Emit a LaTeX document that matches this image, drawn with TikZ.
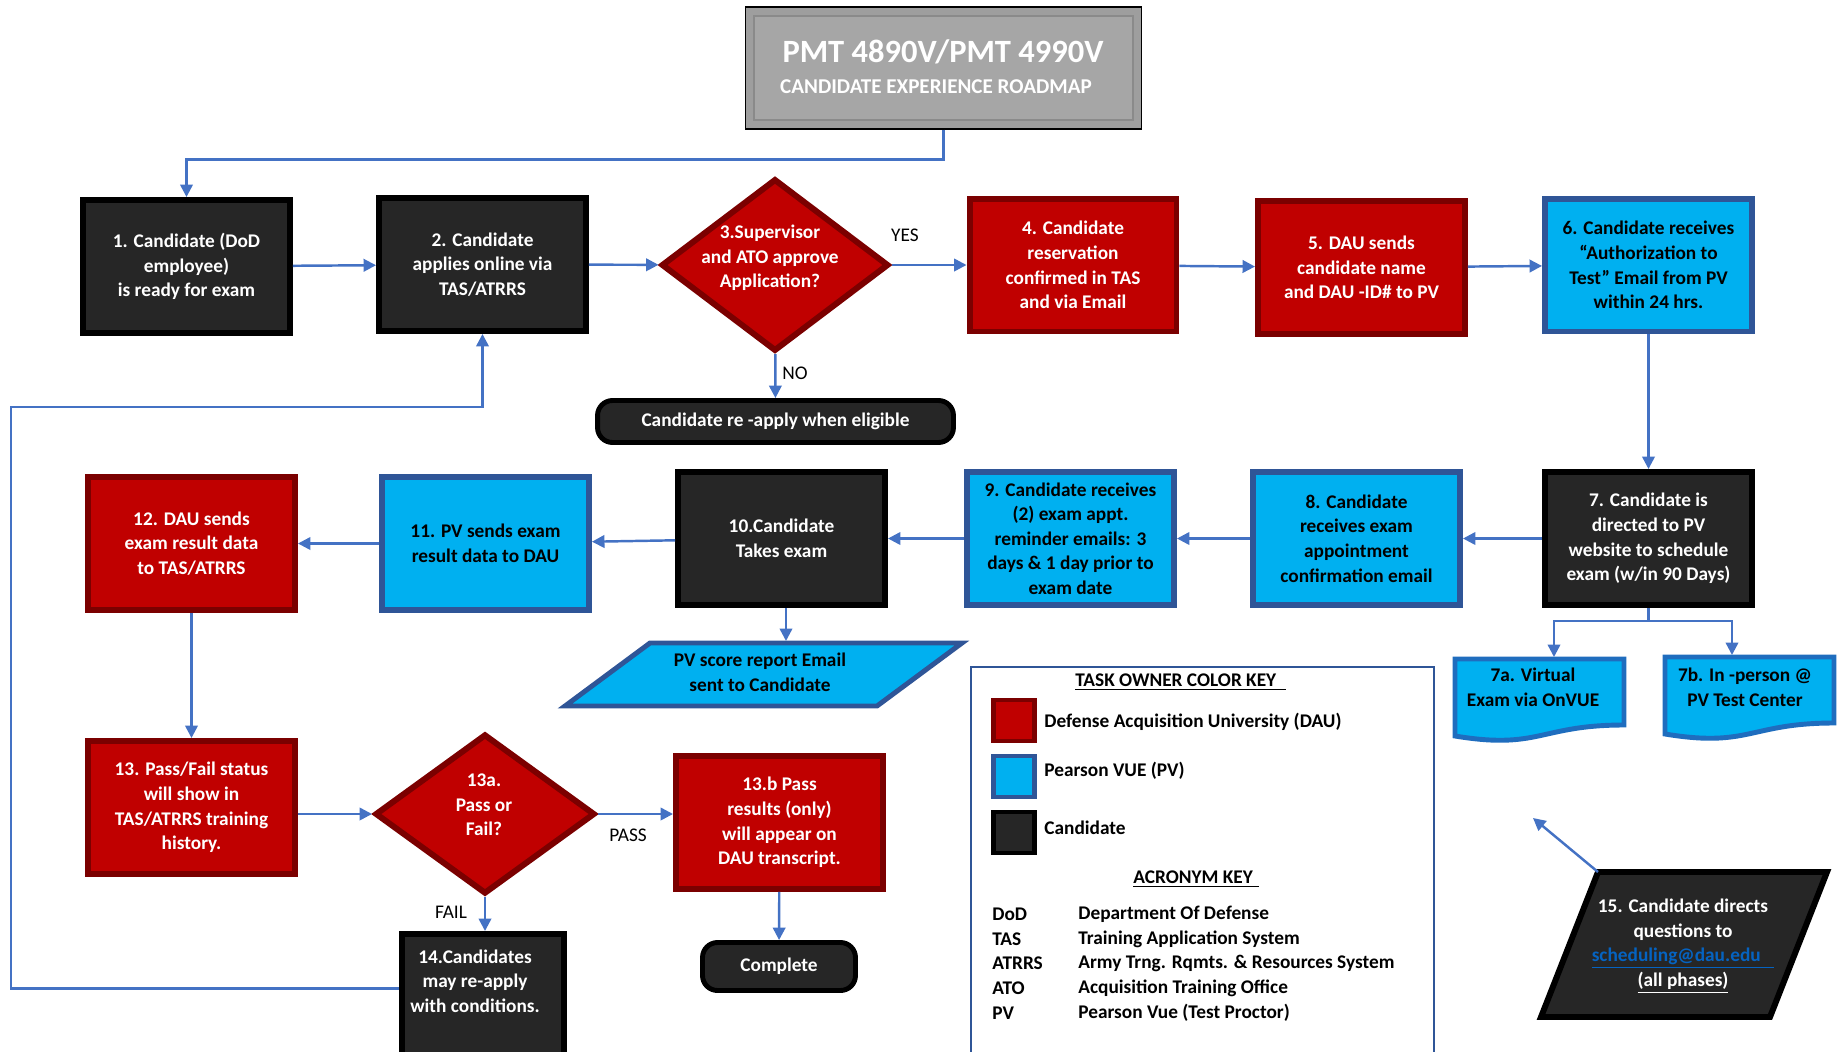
\documentclass[tikz,border=0pt]{standalone}
\usepackage{fontspec}
\setmainfont{Carlito}
\usetikzlibrary{shapes.geometric,arrows.meta}

\definecolor{candFill}{HTML}{262626}
\definecolor{dauFill}{HTML}{C00000}
\definecolor{dauEdge}{HTML}{7B0000}
\definecolor{pvFill}{HTML}{00B0F0}
\definecolor{pvEdge}{HTML}{2F5597}
\definecolor{docEdge}{HTML}{1F6DBE}
\definecolor{flowBlue}{HTML}{4472C4}
\definecolor{mailBlue}{HTML}{0563C1}
\definecolor{titleFill}{HTML}{A6A6A6}
\definecolor{titleBand}{HTML}{9E9E9E}
\definecolor{titleEdge}{HTML}{8A8A8A}

\tikzset{
  txt/.style={font=\fontsize{11}{14}\selectfont\bfseries, align=center},
  box/.style={txt, rectangle, line width=3.4pt, minimum width=4.14cm, minimum height=2.66cm, inner sep=2pt},
  candbox/.style={box, draw=black, fill=candFill, text=white},
  daubox/.style={box, draw=dauEdge, fill=dauFill, text=white},
  pvbox/.style={box, draw=pvEdge, fill=pvFill, text=black},
  dauask/.style={diamond, draw=dauEdge, fill=dauFill, line width=3.4pt, inner sep=0pt},
  endcap/.style={txt, rectangle, rounded corners=0.3cm, draw=black, fill=candFill, text=white, line width=2.8pt},
  docshape/.style={draw=docEdge, fill=pvFill, line width=2.8pt},
  flow/.style={draw=flowBlue, line width=1.4pt, -{Triangle[length=0.25cm,width=0.25cm]}},
  tag/.style={font=\fontsize{11}{14}\selectfont},
  swatch/.style={rectangle, line width=2.8pt, minimum size=0.82cm, inner sep=0pt},
  keytxt/.style={font=\fontsize{11}{14}\selectfont\bfseries, anchor=west, inner sep=0pt},
}

\begin{document}
\begin{tikzpicture}[x=0.02cm, y=-0.02cm]
    \useasboundingbox (0,0) rectangle (1837,1052);

    % Title
    \node[draw=black, line width=0.6pt, fill=titleBand, minimum width=7.94cm, minimum height=2.44cm] (ttlframe) at (943.5,68) {};
    \node[draw=titleEdge, line width=1pt, fill=titleFill, minimum width=7.58cm, minimum height=2.08cm] (ttl) at (943.5,68) {};
    \node[font=\fontsize{18.5}{22}\selectfont\bfseries, text=white] (ttlmain) at (943,52) {PMT 4890V/PMT 4990V};
    \node[font=\fontsize{12}{14}\selectfont\bfseries, text=white] (ttlsub) at (936,87) {CANDIDATE EXPERIENCE ROADMAP};

    % 1) top row
    \node[candbox] (s1) at (186.5,266.5) {1. Candidate (DoD\\employee)\\is ready for exam};
    \node[candbox] (s2) at (482.5,264.5) {2. Candidate\\applies online via\\TAS/ATRRS};
    \node[dauask, minimum width=4.55cm, minimum height=3.45cm] (q3) at (775,265) {};
    \node[txt, text=white] (q3txt) at (770,258) {3.Supervisor\\and ATO approve\\Application?};
    \node[daubox] (s4) at (1073,265) {4. Candidate\\reservation\\confirmed in TAS\\and via Email};
    \node[daubox] (s5) at (1361.5,267.5) {5. DAU sends\\candidate name\\and DAU -ID\# to PV};
    \node[pvbox] (s6) at (1648.5,265) {6. Candidate receives\\“Authorization to\\Test" Email from PV\\within 24 hrs.};
    \node[endcap, minimum width=7.12cm, minimum height=0.84cm] (redo) at (775.5,421.5) {Candidate re -apply when eligible};
    \node[tag] (yes) at (905,235) {YES};
    \node[tag] (no) at (795,373) {NO};

    % 2) middle row
    \node[candbox] (s7) at (1648.5,538.5) {7. Candidate is\\directed to PV\\website to schedule\\exam (w/in 90 Days)};
    \node[pvbox] (s8) at (1356.5,538.5) {8. Candidate\\receives exam\\appointment\\confirmation email};
    \node[pvbox] (s9) at (1070.5,538.5) {9. Candidate receives\\(2) exam appt.\\reminder emails: 3\\days \& 1 day prior to\\exam date};
    \node[candbox] (s10) at (781.5,538.5) {10.Candidate\\Takes exam};
    \node[pvbox] (s11) at (485.5,543.5) {11. PV sends exam\\result data to DAU};
    \node[daubox] (s12) at (191.5,543.5) {12. DAU sends\\exam result data\\to TAS/ATRRS};

    % 7a / 7b documents
    \filldraw[docshape] (1455,659) -- (1624,659) -- (1624,725) .. controls (1539.5,725) and (1539.5,750) .. (1455,736) -- cycle;
    \filldraw[docshape] (1665,657) -- (1834,657) -- (1834,723) .. controls (1749.5,723) and (1749.5,748) .. (1665,734) -- cycle;
    \node[txt] (v7a) at (1533,687) {7a. Virtual\\Exam via OnVUE};
    \node[txt] (v7b) at (1745,687) {7b. In -person @\\PV Test Center};
    \coordinate (v7atop) at (1554,657);
    \coordinate (v7btop) at (1732,655);

    % score report
    \filldraw[draw=pvEdge, fill=pvFill, line width=2.8pt] (565,706) -- (650,643) -- (962,643) -- (877,706) -- cycle;
    \node[txt] (score) at (760,672) {PV score report Email\\sent to Candidate};
    \coordinate (sctop) at (786,641);

    % 3) bottom rows
    \node[daubox] (s13) at (191.5,807.5) {13. Pass/Fail status\\will show in\\TAS/ATRRS training\\history.};
    \node[dauask, minimum width=4.4cm, minimum height=3.2cm] (q13a) at (485,814) {};
    \node[txt, text=white] (q13atxt) at (484,805) {13a.\\Pass or\\Fail?};
    \node[daubox] (s13b) at (779.5,822.5) {13.b Pass\\results (only)\\will appear on\\DAU transcript.};
    \node[candbox, minimum width=3.24cm] (s14) at (483,1000.5) {};
    \node[txt, text=white] (s14txt) at (475,981) {14.Candidates\\may re-apply\\with conditions.};
    \node[endcap, minimum width=3.06cm, minimum height=0.96cm] (done) at (779,966.5) {Complete};
    \node[tag] (pass) at (628,835) {PASS};
    \node[tag] (fail) at (451,912) {FAIL};

    % 15) questions
    \filldraw[draw=black, fill=candFill, line width=3.4pt] (1598,872) -- (1827,872) -- (1770,1017) -- (1541,1017) -- cycle;
    \node[txt, text=white] (q15) at (1683,946) {15. Candidate directs\\questions to\\\textcolor{mailBlue}{\underline{scheduling@dau.edu\hspace{0.7em}}}\\\underline{(all phases)}};
    \coordinate (q15corner) at (1598,872);
    \coordinate (q15tip) at (1533,818);

    % Connectors
    \draw[flow] (ttlframe.south) -- ++(0,30) -| (s1.north);
    \draw[flow] (s1) -- (s2);
    \draw[flow] (s2) -- (q3);
    \draw[flow] (q3) -- (s4);
    \draw[flow] (q3) -- (redo);
    \draw[flow] (s4) -- (s5);
    \draw[flow] (s5) -- (s6);
    \draw[flow] (s6) -- (s7);
    \draw[flow] (s7) -- (s8);
    \draw[flow] (s8) -- (s9);
    \draw[flow] (s9) -- (s10);
    \draw[flow] (s10) -- (s11);
    \draw[flow] (s11) -- (s12);
    \draw[flow] (s12) -- (s13);
    \draw[flow] (s13.east |- q13a.west) -- (q13a);
    \draw[flow] (q13a) -- (q13a.east -| s13b.west);
    \draw[flow] (q13a) -- (q13a.south |- s14.north);
    \draw[flow] (s13b) -- (done);
    \draw[flow] (s10.south -| sctop) -- (sctop);
    \draw[flow] (s7.south) -- ++(0,13) -| (v7atop);
    \draw[flow] (s7.south) -- ++(0,13) -| (v7btop);
    \draw[flow] (q15corner) -- (q15tip);
    % re-apply loop
    \coordinate (loopturn) at (11,407);
    \draw[flow] (s14.172) -| (loopturn) -| (s2.south);

    % Legend
    \draw[draw=pvEdge, line width=1.1pt] (971,667) rectangle (1434,1070);
    \node[keytxt] (keyhead) at (1075,682) {\underline{TASK OWNER COLOR KEY\hspace{0.5em}}};
    \node[swatch, draw=dauEdge, fill=dauFill] (keydau) at (1014,720.5) {};
    \node[swatch, draw=pvEdge, fill=pvFill] (keypv) at (1014,776.5) {};
    \node[swatch, draw=black, fill=candFill] (keycand) at (1014,832.5) {};
    \node[keytxt] (keydautxt) at (1044,722) {Defense Acquisition University (DAU)};
    \node[keytxt] (keypvtxt) at (1044,771) {Pearson VUE (PV)};
    \node[keytxt] (keycandtxt) at (1044,828) {Candidate};
    \node[keytxt] (acrhead) at (1133,879) {\underline{ACRONYM KEY\hspace{0.3em}}};
    \node[keytxt] (acr1) at (992,914) {DoD};
    \node[keytxt] (acr2) at (992,939) {TAS};
    \node[keytxt] (acr3) at (992,963) {ATRRS};
    \node[keytxt] (acr4) at (992,988) {ATO};
    \node[keytxt] (acr5) at (992,1013) {PV};
    \node[keytxt] (def1) at (1078,914) {Department Of Defense};
    \node[keytxt] (def2) at (1078,939) {Training Application System};
    \node[keytxt] (def3) at (1078,963) {Army Trng. Rqmts. \& Resources System};
    \node[keytxt] (def4) at (1078,988) {Acquisition Training Office};
    \node[keytxt] (def5) at (1078,1013) {Pearson Vue (Test Proctor)};
\end{tikzpicture}
\end{document}
